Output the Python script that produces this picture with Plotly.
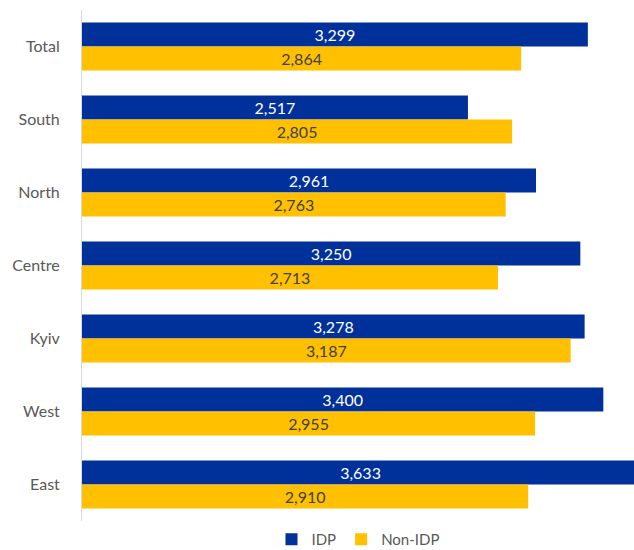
import plotly.graph_objects as go

categories = ["Total", "South", "North", "Centre", "Kyiv", "West", "East"]
idp = [3299, 2517, 2961, 3250, 3278, 3400, 3633]
non_idp = [2864, 2805, 2763, 2713, 3187, 2955, 2910]

BLUE = "#00309A"
GOLD = "#FFC000"
FONT = "Lato"

fig = go.Figure()
fig.add_trace(go.Bar(
    y=categories, x=idp, name="IDP", orientation="h",
    marker=dict(color=BLUE, line=dict(width=0)),
    texttemplate="%{x:,}", textposition="inside", insidetextanchor="middle",
    textfont=dict(color="white", size=16, family=FONT), constraintext="none",
))
fig.add_trace(go.Bar(
    y=categories, x=non_idp, name="Non-IDP", orientation="h",
    marker=dict(color=GOLD, line=dict(width=0)),
    texttemplate="%{x:,}", textposition="inside", insidetextanchor="middle",
    textfont=dict(color="#404040", size=16, family=FONT), constraintext="none",
))

fig.update_layout(
    width=634, height=550,
    margin=dict(l=82, r=0, t=10, b=29, autoexpand=False),
    barmode="group", bargap=0.34, bargroupgap=0,
    plot_bgcolor="white", paper_bgcolor="white",
    font=dict(family=FONT, size=16, color="#595959"),
    showlegend=True,
    legend=dict(orientation="h", x=0.5, xanchor="center", yref="container",
                y=0.019, yanchor="middle", bgcolor="rgba(0,0,0,0)",
                traceorder="normal", font=dict(size=15, color="#595959"),
                itemwidth=30, tracegroupgap=0),
    xaxis=dict(range=[0, 3600], showgrid=False, zeroline=False, showticklabels=False,
               showline=False, ticks=""),
    yaxis=dict(autorange="reversed", showline=True, linecolor="#D9D9D9", linewidth=1,
               ticks="", ticklen=0, ticklabelstandoff=18, showgrid=False),
)

fig.write_html("out.html")
